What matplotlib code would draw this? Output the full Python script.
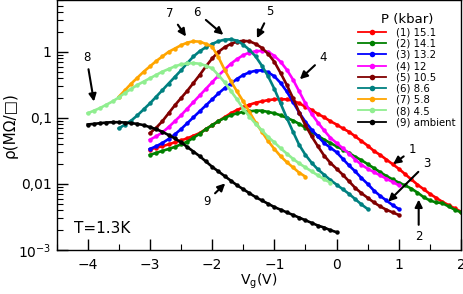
import numpy as np
import matplotlib
matplotlib.use("Agg")
import matplotlib.pyplot as plt
from matplotlib.ticker import FixedLocator, FixedFormatter, LogLocator, MultipleLocator, NullFormatter

def grid(a, b):
    return np.round(np.arange(a, b + 0.001, 0.1), 2)

# ---- data: gate voltage (V) and log10 of sheet resistance (MOhm/sq) ----
vg_1 = grid(-3.0, 2.0)
log_rho_1 = [-1.48, -1.45, -1.43, -1.40, -1.37, -1.34, -1.31, -1.27, -1.23, -1.17,
             -1.11, -1.05, -0.99, -0.93, -0.88, -0.84, -0.80, -0.77, -0.75, -0.73,
             -0.72, -0.715, -0.72, -0.74, -0.78, -0.83, -0.88, -0.94, -0.99, -1.05,
             -1.10, -1.16, -1.21, -1.28, -1.35, -1.42, -1.50, -1.56, -1.63, -1.70,
             -1.77, -1.85, -1.93, -2.01, -2.08, -2.15, -2.21, -2.27, -2.32, -2.37, -2.42]

vg_2 = grid(-3.0, 2.0)
log_rho_2 = [-1.56, -1.53, -1.50, -1.47, -1.44, -1.40, -1.36, -1.30, -1.24, -1.17,
             -1.11, -1.05, -1.00, -0.96, -0.93, -0.91, -0.90, -0.89, -0.89, -0.91,
             -0.93, -0.96, -1.00, -1.04, -1.09, -1.15, -1.21, -1.27, -1.33, -1.38,
             -1.43, -1.48, -1.53, -1.59, -1.64, -1.70, -1.76, -1.82, -1.88, -1.93,
             -1.98, -2.02, -2.07, -2.13, -2.20, -2.25, -2.28, -2.29, -2.34, -2.39, -2.43]

vg_3 = grid(-3.0, 1.0)
log_rho_3 = [-1.47, -1.43, -1.38, -1.32, -1.25, -1.17, -1.08, -0.99, -0.90, -0.81,
             -0.72, -0.63, -0.55, -0.48, -0.41, -0.35, -0.31, -0.285, -0.28, -0.31,
             -0.37, -0.47, -0.60, -0.76, -0.92, -1.06, -1.18, -1.28, -1.38, -1.45,
             -1.52, -1.62, -1.72, -1.81, -1.91, -2.00, -2.10, -2.18, -2.25, -2.32, -2.38]

vg_4 = grid(-3.0, 1.0)
log_rho_4 = [-1.33, -1.28, -1.22, -1.14, -1.05, -0.96, -0.86, -0.76, -0.66, -0.56,
             -0.46, -0.36, -0.27, -0.18, -0.11, -0.05, -0.01, 0.01, 0.015, 0.00,
             -0.06, -0.15, -0.27, -0.42, -0.60, -0.78, -0.94, -1.07, -1.19, -1.30,
             -1.38, -1.46, -1.54, -1.63, -1.71, -1.77, -1.82, -1.87, -1.92, -1.97, -2.02]

vg_5 = grid(-3.0, 1.0)
log_rho_5 = [-1.23, -1.15, -1.05, -0.93, -0.81, -0.70, -0.59, -0.47, -0.35, -0.22,
             -0.10, 0.00, 0.07, 0.12, 0.155, 0.167, 0.16, 0.12, 0.06, -0.03,
             -0.15, -0.32, -0.50, -0.70, -0.92, -1.11, -1.28, -1.43, -1.57, -1.68,
             -1.77, -1.86, -1.96, -2.06, -2.14, -2.21, -2.28, -2.34, -2.39, -2.43, -2.47]

vg_6 = grid(-3.5, 0.5)
log_rho_6 = [-1.16, -1.10, -1.04, -0.96, -0.87, -0.78, -0.68, -0.58, -0.48, -0.38,
             -0.28, -0.17, -0.07, 0.01, 0.07, 0.12, 0.16, 0.185, 0.19, 0.17,
             0.11, 0.03, -0.07, -0.21, -0.37, -0.56, -0.78, -1.00, -1.21, -1.41,
             -1.56, -1.68, -1.78, -1.86, -1.94, -2.01, -2.08, -2.15, -2.23, -2.31, -2.38]

vg_7 = grid(-3.5, -0.5)
log_rho_7 = [-0.68, -0.58, -0.48, -0.39, -0.30, -0.22, -0.14, -0.07, 0.00, 0.05,
             0.10, 0.14, 0.16, 0.155, 0.12, 0.08, -0.08, -0.27, -0.44, -0.60,
             -0.75, -0.91, -1.07, -1.21, -1.35, -1.47, -1.58, -1.67, -1.75, -1.83, -1.89]

vg_8 = grid(-4.0, -0.1)
log_rho_8 = [-0.93, -0.89, -0.85, -0.80, -0.75, -0.69, -0.62, -0.56, -0.50, -0.45,
             -0.40, -0.35, -0.30, -0.26, -0.22, -0.19, -0.175, -0.17, -0.18, -0.21,
             -0.25, -0.35, -0.46, -0.59, -0.72, -0.86, -0.98, -1.09, -1.19, -1.29,
             -1.37, -1.46, -1.54, -1.62, -1.69, -1.75, -1.81, -1.87, -1.93, -1.98]

vg_9 = grid(-4.0, 0.0)
log_rho_9 = [-1.10, -1.09, -1.08, -1.07, -1.065, -1.065, -1.07, -1.08, -1.09, -1.11,
             -1.14, -1.17, -1.21, -1.26, -1.31, -1.37, -1.44, -1.51, -1.58, -1.66,
             -1.74, -1.81, -1.88, -1.95, -2.02, -2.08, -2.14, -2.20, -2.25, -2.30,
             -2.35, -2.39, -2.43, -2.47, -2.51, -2.55, -2.59, -2.63, -2.66, -2.70, -2.73]

labels = ["(1) 15.1", "(2) 14.1", "(3) 13.2", "(4) 12", "(5) 10.5",
          "(6) 8.6", "(7) 5.8", "(8) 4.5", "(9) ambient"]
colors = ["#ff0000", "#008000", "#0000ff", "#ff00ff", "#800000",
          "#008080", "#ffa500", "#90ee90", "#000000"]
series = [(vg_1, log_rho_1), (vg_2, log_rho_2), (vg_3, log_rho_3), (vg_4, log_rho_4),
          (vg_5, log_rho_5), (vg_6, log_rho_6), (vg_7, log_rho_7), (vg_8, log_rho_8),
          (vg_9, log_rho_9)]

# annotations: label, text position (Vg, rho), arrow tip (Vg, rho)
ann_labels = ["8", "7", "6", "5", "4", "1", "3", "2", "9"]
ann_text = [(-4.02, 0.83), (-2.68, 3.86), (-2.24, 3.94), (-1.07, 4.08), (-0.21, 0.83),
            (1.22, 0.0327), (1.45, 0.0204), (1.32, 0.00158), (-2.09, 0.0054)]
ann_tip = [(-3.90, 0.177), (-2.42, 1.71), (-1.82, 1.81), (-1.28, 1.61), (-0.59, 0.385),
           (0.91, 0.020), (0.83, 0.0054), (1.32, 0.0058), (-1.79, 0.0102)]

ytick_vals = [1e-3, 1e-2, 1e-1, 1]
ytick_labels = [r"$10^{-3}$", "0,01", "0,1", "1"]

fig = plt.figure(figsize=(4.64, 2.94), dpi=100)
ax = fig.add_axes([0.122, 0.1497, 0.8715, 0.8503])

for (vg, lr), c, lab in zip(series, colors, labels):
    ax.plot(vg, 10 ** np.asarray(lr), '-o', color=c, lw=1.9, ms=3.2, mew=0,
            label=lab)

ax.set_yscale('log')
ax.set_xlim(-4.5, 2.0)
ax.set_ylim(1e-3, 6.1)

ax.xaxis.set_major_locator(MultipleLocator(1))
ax.xaxis.set_minor_locator(MultipleLocator(0.5))
ax.yaxis.set_major_locator(FixedLocator(ytick_vals))
ax.yaxis.set_major_formatter(FixedFormatter(ytick_labels))
ax.yaxis.set_minor_locator(LogLocator(base=10, subs=np.arange(2, 10), numticks=20))
ax.yaxis.set_minor_formatter(NullFormatter())

ax.tick_params(which='major', direction='in', length=8, width=1.0, labelsize=10)
ax.tick_params(which='minor', direction='in', length=4, width=0.8)
ax.tick_params(axis='x', which='major', pad=5.5)
ax.tick_params(axis='y', which='major', pad=3.5)
for s in ax.spines.values():
    s.set_linewidth(1.0)

ax.set_xlabel(r"V$_\mathregular{g}$(V)", fontsize=10)
ax.xaxis.set_label_coords(0.5, -0.088)
ax.set_ylabel("ρ(MΩ/□)", fontsize=11)
ax.yaxis.set_label_coords(-0.097, 0.5)

for lab, (tx, ty), (px, py) in zip(ann_labels, ann_text, ann_tip):
    ax.annotate(lab, xy=(px, py), xytext=(tx, ty), fontsize=8.5,
                ha='center', va='center',
                arrowprops=dict(arrowstyle='-|>', color='k', lw=1.5,
                                mutation_scale=11, shrinkA=2, shrinkB=0))

ax.text(-4.22, 0.00215, "T=1.3K", fontsize=11, ha='left', va='center')

leg = ax.legend(loc='upper left', bbox_to_anchor=(0.74, 0.955), frameon=False,
                fontsize=7.3, title="P (kbar)", title_fontsize=9.5,
                numpoints=1, handlelength=2.8, handletextpad=1.0,
                labelspacing=0.12, borderaxespad=0.0, borderpad=0.2)
for h in leg.legend_handles:
    h.set_markersize(4)
    h.set_linewidth(1.3)

fig.savefig("out.png", dpi=100)
